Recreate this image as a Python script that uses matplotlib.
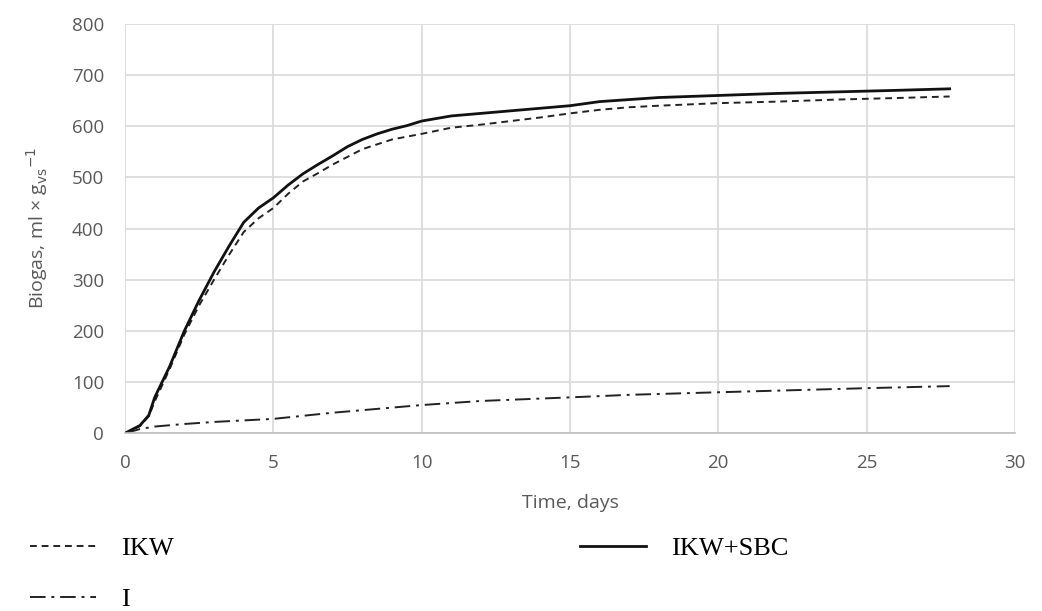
import matplotlib
matplotlib.use("Agg")
import matplotlib.pyplot as plt

days_sbc = [0, 0.5, 0.8, 1, 1.5, 2, 2.5, 3, 3.5, 4, 4.5, 5, 5.5, 6, 6.5, 7, 7.5, 8, 8.5, 9, 9.5, 10,
            11, 12, 13, 14, 15, 16, 17, 18, 19, 20, 22, 24, 26, 27.8]
ikw_sbc = [0, 15, 35, 70, 130, 200, 260, 315, 365, 412, 440, 460, 485, 507, 525, 542, 560, 574, 585, 594, 601, 610,
           620, 625, 630, 635, 640, 648, 652, 656, 658, 660, 664, 667, 670, 673]

days_ikw = [0, 0.5, 0.8, 1, 1.5, 2, 2.5, 3, 3.5, 4, 4.5, 5, 5.5, 6, 6.5, 7, 8, 9, 10, 11, 12, 13, 14, 15,
            16, 17, 18, 20, 22, 24, 26, 27.8]
ikw = [0, 14, 33, 62, 125, 193, 250, 300, 348, 393, 420, 440, 468, 492, 508, 525, 555, 574, 585, 597, 603, 610, 617, 625,
       632, 637, 640, 645, 648, 652, 655, 658]

days_i = [0, 0.5, 1, 2, 3, 5, 7, 10, 12, 15, 17, 20, 25, 27.8]
inoc = [0, 8, 13, 18, 22, 28, 40, 55, 63, 70, 75, 80, 88, 92]

xticks = [0, 5, 10, 15, 20, 25, 30]
yticks = [0, 100, 200, 300, 400, 500, 600, 700, 800]

fig = plt.figure(figsize=(10.42, 6.11), dpi=100)
ax = fig.add_axes([0.12, 0.291, 0.854, 0.670])

tick_font = "Open Sans"
gray = "#595959"

l_ikw, = ax.plot(days_ikw, ikw, color="#222222", lw=1.4, linestyle=(0, (3.5, 2.5)))
l_sbc, = ax.plot(days_sbc, ikw_sbc, color="#111111", lw=2.0, linestyle="-")
l_i, = ax.plot(days_i, inoc, color="#222222", lw=1.4, linestyle=(0, (8, 3, 1.5, 3)))

ax.set_xlim(0, 30)
ax.set_ylim(0, 800)
ax.set_xticks(xticks)
ax.set_yticks(yticks)
ax.grid(True, color="#d9d9d9", lw=1.2)
ax.set_axisbelow(True)
for s in ["top", "right", "left"]:
    ax.spines[s].set_visible(False)
ax.spines["bottom"].set_color("#bfbfbf")
ax.spines["bottom"].set_linewidth(1.2)
ax.tick_params(length=0, labelsize=13.5, colors=gray, pad=15)
for lab in ax.get_xticklabels() + ax.get_yticklabels():
    lab.set_fontfamily(tick_font)

ax.set_xlabel("Time, days", fontsize=14, color=gray, fontfamily=tick_font, labelpad=16)
ax.set_ylabel(r"Biogas, ml × g$_{\mathrm{vs}}$$^{-1}$", fontsize=14, color=gray,
              fontfamily=tick_font, labelpad=16)

fig.legend([l_ikw, l_i, l_sbc], ["IKW", "I", "IKW+SBC"], ncol=2,
           loc="upper left", bbox_to_anchor=(0.0288, 0.122), frameon=False,
           borderpad=0, borderaxespad=0,
           prop={"family": "Liberation Serif", "size": 19},
           handlelength=2.5, handletextpad=0.95, columnspacing=15.4, labelspacing=1.05)

fig.savefig("out.png", dpi=100)
